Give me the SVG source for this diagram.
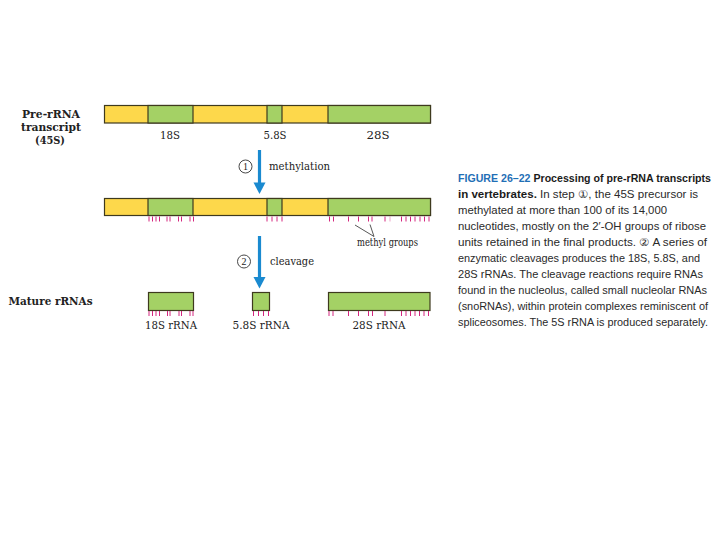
<svg xmlns="http://www.w3.org/2000/svg" width="720" height="540" viewBox="0 0 720 540">
<style>
.y{fill:#FDD84B;stroke:#3e3a1e;stroke-width:1.2}
.g{fill:#A4D165;stroke:#3e3a1e;stroke-width:1.2}
.tick{stroke:#d4267e;stroke-width:1;fill:none}
.lbl{font-family:"DejaVu Serif","Liberation Serif",serif;font-size:11px;fill:#222}
.blbl{font-family:"DejaVu Serif","Liberation Serif",serif;font-size:11px;font-weight:bold;fill:#222}
.arrow{fill:#1a8ad0;stroke:none}
.shaft{stroke:#1a8ad0;stroke-width:3.2}
.num{fill:none;stroke:#333;stroke-width:0.9}
.numt{font-family:"Liberation Serif",serif;font-size:10px;fill:#222;text-anchor:middle}
.cap{font-family:"Liberation Sans",sans-serif;font-size:11px;fill:#2a2a2a}
.capb{font-weight:bold;fill:#1b1b1b}
.fig{font-family:"Liberation Sans Narrow","Liberation Sans",sans-serif;font-weight:bold;fill:#1f6fb6}
.ptr{stroke:#444;stroke-width:0.9;fill:none}
</style>

<g id="label-prerna">
<text class="blbl" x="22" y="118" textLength="58" lengthAdjust="spacingAndGlyphs">Pre-rRNA</text>
<text class="blbl" x="21" y="131" textLength="60" lengthAdjust="spacingAndGlyphs">transcript</text>
<text class="blbl" x="35" y="144" textLength="30" lengthAdjust="spacingAndGlyphs">(45S)</text>
</g>

<g id="pre-transcript">
<rect class="y" x="104.5" y="105.5" width="326" height="17.5"/>
<rect class="g" x="148" y="105.5" width="45" height="17.5"/>
<rect class="g" x="267" y="105.5" width="15" height="17.5"/>
<rect class="g" x="328" y="105.5" width="102.5" height="17.5"/>
<text class="lbl" x="160" y="139" textLength="20" lengthAdjust="spacingAndGlyphs">18S</text>
<text class="lbl" x="263.5" y="139" textLength="23" lengthAdjust="spacingAndGlyphs">5.8S</text>
<text class="lbl" x="366.5" y="139" textLength="23" lengthAdjust="spacingAndGlyphs">28S</text>
</g>

<g id="methylated-transcript">
<rect class="y" x="104.5" y="198.5" width="326" height="17"/>
<rect class="g" x="148" y="198.5" width="45" height="17"/>
<rect class="g" x="267" y="198.5" width="15" height="17"/>
<rect class="g" x="328" y="198.5" width="102.5" height="17"/>
<path class="tick" d="M149 216.5v5M152.5 216.5v5M156 216.5v5M159.5 216.5v5M167 216.5v5M170 216.5v5M178.5 216.5v5M181.5 216.5v5M190 216.5v5M193.5 216.5v5M267 216.5v5M272 216.5v5M277 216.5v5M282 216.5v5M329.5 216.5v5M333.5 216.5v5M348.5 216.5v5M358.5 216.5v5M368.5 216.5v5M372 216.5v5M385 216.5v5M401.5 216.5v5M406 216.5v5M410.5 216.5v5M415 216.5v5M420 216.5v5M424.5 216.5v5M429 216.5v5"/>
<path class="tick" d="M390 216.5v5" stroke-opacity="0.4"/>
<text class="lbl" x="357" y="246" font-size="9.5px" textLength="61" lengthAdjust="spacingAndGlyphs">methyl groups</text>
</g>

<g id="label-mature">
<text class="blbl" x="8.5" y="305" textLength="84" lengthAdjust="spacingAndGlyphs">Mature rRNAs</text>
</g>

<g id="mature-18S">
<rect class="g" x="148.5" y="292.5" width="45" height="18"/>
<path class="tick" d="M149 311v5M152.5 311v5M156 311v5M159.5 311v5M167.5 311v5M170 311v5M179 311v5M181.5 311v5M190 311v5M193 311v5"/>
<text class="lbl" x="145" y="328.5" textLength="52" lengthAdjust="spacingAndGlyphs">18S rRNA</text>
</g>
<g id="mature-5.8S">
<rect class="g" x="252.5" y="292.5" width="17" height="18"/>
<path class="tick" d="M253.5 311v5M258.5 311v5M263.5 311v5M268.5 311v5"/>
<text class="lbl" x="232.5" y="328.5" textLength="57" lengthAdjust="spacingAndGlyphs">5.8S rRNA</text>
</g>
<g id="mature-28S">
<rect class="g" x="328.5" y="292.5" width="101.5" height="18"/>
<path class="tick" d="M329 311v5M333 311v5M348.5 311v5M358.5 311v5M368.5 311v5M372.5 311v5M385 311v5M401.5 311v5M406 311v5M410.5 311v5M415 311v5M419.5 311v5M424 311v5M428.5 311v5"/>
<text class="lbl" x="352.5" y="328.5" textLength="53" lengthAdjust="spacingAndGlyphs">28S rRNA</text>
</g>

<g id="connectors">
<line class="shaft" x1="259.5" y1="150" x2="259.5" y2="184"/>
<polygon class="arrow" points="253.5,182.5 265.5,182.5 259.5,194"/>
<line class="shaft" x1="259.5" y1="236" x2="259.5" y2="278"/>
<polygon class="arrow" points="253.5,277 265.5,277 259.5,288.5"/>
<path class="ptr" d="M355 225L374 236.5M370 224.5L374 236.5"/>
</g>

<g id="step1">
<circle class="num" cx="245.5" cy="166.5" r="6.5"/>
<text class="numt" x="245.5" y="170">1</text>
<text class="lbl" x="269" y="170" textLength="61" lengthAdjust="spacingAndGlyphs">methylation</text>
</g>
<g id="step2">
<circle class="num" cx="244" cy="261.5" r="6.5"/>
<text class="numt" x="244" y="265">2</text>
<text class="lbl" x="270" y="265" textLength="44" lengthAdjust="spacingAndGlyphs">cleavage</text>
</g>

<g id="caption">
<text class="cap" x="458" y="182" textLength="253" lengthAdjust="spacingAndGlyphs"><tspan class="fig">FIGURE 26–22</tspan><tspan class="capb"> Processing of pre-rRNA transcripts</tspan></text>
<text class="cap" x="458" y="198" textLength="240" lengthAdjust="spacingAndGlyphs"><tspan class="capb">in vertebrates.</tspan> In step ①, the 45S precursor is</text>
<text class="cap" x="458" y="214" textLength="209" lengthAdjust="spacingAndGlyphs">methylated at more than 100 of its 14,000</text>
<text class="cap" x="458" y="230" textLength="248" lengthAdjust="spacingAndGlyphs">nucleotides, mostly on the 2′-OH groups of ribose</text>
<text class="cap" x="458" y="246" textLength="249" lengthAdjust="spacingAndGlyphs">units retained in the final products. ② A series of</text>
<text class="cap" x="458" y="262" textLength="242" lengthAdjust="spacingAndGlyphs">enzymatic cleavages produces the 18S, 5.8S, and</text>
<text class="cap" x="458" y="278" textLength="245" lengthAdjust="spacingAndGlyphs">28S rRNAs. The cleavage reactions require RNAs</text>
<text class="cap" x="458" y="294" textLength="249" lengthAdjust="spacingAndGlyphs">found in the nucleolus, called small nucleolar RNAs</text>
<text class="cap" x="458" y="310" textLength="250" lengthAdjust="spacingAndGlyphs">(snoRNAs), within protein complexes reminiscent of</text>
<text class="cap" x="458" y="326" textLength="250" lengthAdjust="spacingAndGlyphs">spliceosomes. The 5S rRNA is produced separately.</text>
</g>
</svg>
